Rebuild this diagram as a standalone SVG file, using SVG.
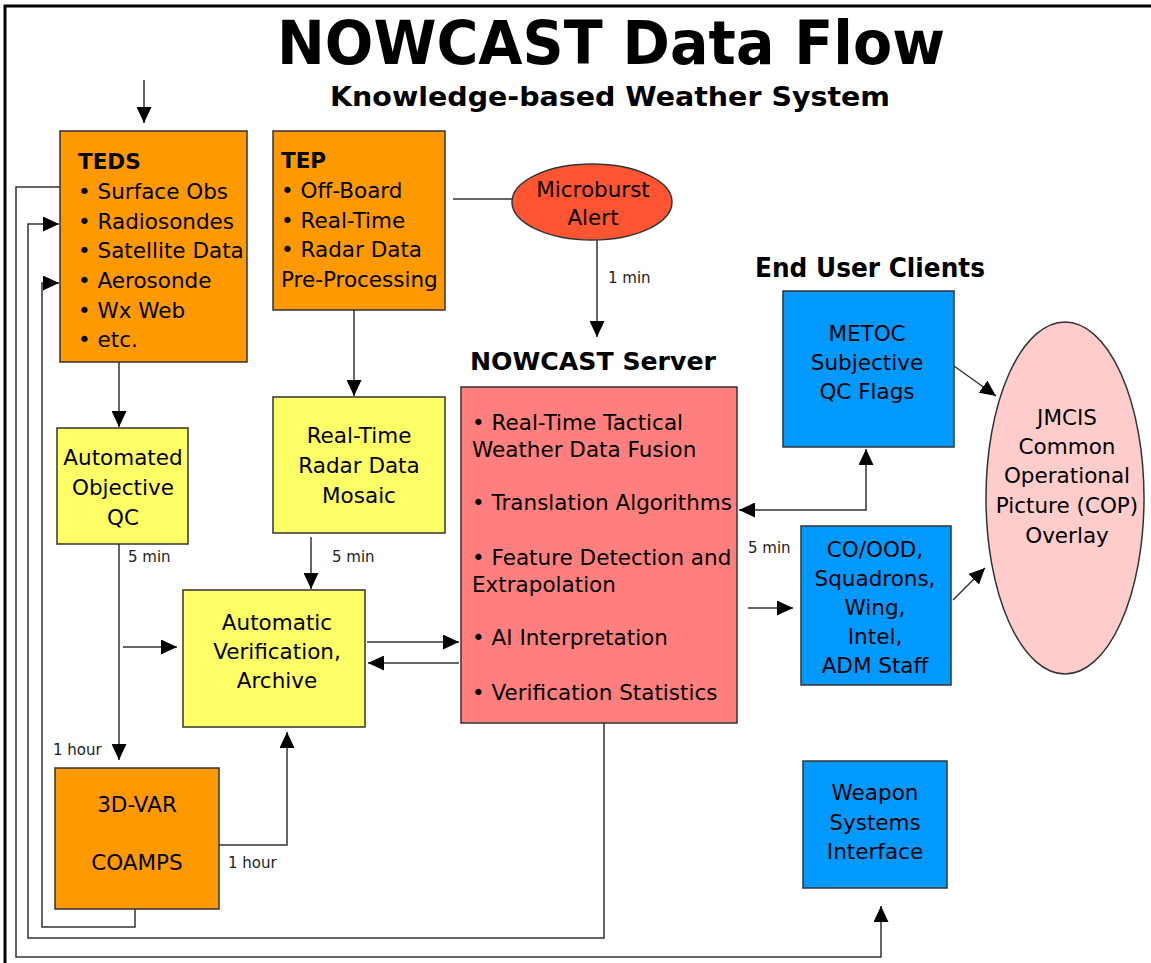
<svg xmlns="http://www.w3.org/2000/svg" width="1151" height="963" viewBox="0 0 1151 963">
<defs>
<marker id="ah" markerUnits="userSpaceOnUse" markerWidth="16" markerHeight="15" refX="16" refY="7.5" orient="auto-start-reverse">
<path d="M0,0 L16,7.5 L0,15 z" fill="#000"/>
</marker>
<style>
.box{stroke:#333;stroke-width:1.5}
.orange{fill:#FF9900}
.yellow{fill:#FFFF66}
.blue{fill:#0099FF}
.t{font-family:"DejaVu Sans",Verdana,sans-serif;font-size:21.5px;fill:#000}
.c{text-anchor:middle}
.b{font-weight:bold}
.h{font-family:"DejaVu Sans",Verdana,sans-serif;font-weight:bold;fill:#000}
.s{font-family:"DejaVu Sans",Verdana,sans-serif;font-size:15px;fill:#222}
.ln{fill:none;stroke:#333;stroke-width:1.5}
.ar{fill:none;stroke:#333;stroke-width:1.5;marker-end:url(#ah)}
</style>
</defs>
<rect width="1151" height="963" fill="#fff"/>
<path d="M5,963 V6 H1151" fill="none" stroke="#000" stroke-width="3"/>
<g id="title">
<text class="h" x="611" y="64" font-size="60" text-anchor="middle" textLength="668" lengthAdjust="spacingAndGlyphs">NOWCAST Data Flow</text>
<text class="h" x="610" y="106" font-size="27" text-anchor="middle" textLength="560" lengthAdjust="spacingAndGlyphs">Knowledge-based Weather System</text>
</g>
<g id="connectors">
<line class="ar" x1="144" y1="80" x2="144" y2="123"/>
<polyline class="ar" points="60,187 16,187 16,957 881,957 881,906"/>
<polyline class="ar" points="604,723 604,938 28,938 28,224 59,224"/>
<polyline class="ar" points="135,909 135,927 42,927 42,283 59,283"/>
<line class="ar" x1="119" y1="362" x2="119" y2="427"/>
<line class="ar" x1="119" y1="544" x2="119" y2="760"/>
<line class="ar" x1="123" y1="647" x2="177" y2="647"/>
<line class="ar" x1="354" y1="310" x2="354" y2="396"/>
<line class="ar" x1="311" y1="537" x2="311" y2="589"/>
<polyline class="ar" points="219,845 287,845 287,732"/>
<line class="ar" x1="367" y1="642" x2="459" y2="642"/>
<line class="ar" x1="459" y1="663" x2="368" y2="663"/>
<line class="ln" x1="453" y1="199" x2="513" y2="199"/>
<line class="ar" x1="597" y1="240" x2="597" y2="337"/>
<polyline class="ar" points="739,510 866,510 866,449" style="marker-start:url(#ah)"/>
<line class="ar" x1="748" y1="608" x2="793" y2="608"/>
<line class="ar" x1="954" y1="366" x2="996" y2="396"/>
<line class="ar" x1="953" y1="600" x2="985" y2="568"/>
<text class="s" x="53" y="755">1 hour</text>
<text class="s" x="128" y="562">5 min</text>
<text class="s" x="332" y="562">5 min</text>
<text class="s" x="228" y="868">1 hour</text>
<text class="s" x="608" y="283">1 min</text>
<text class="s" x="748" y="553">5 min</text>
</g>
<g id="teds">
<rect class="box orange" x="60" y="131" width="187" height="231"/>
<text class="t b" x="78" y="169">TEDS</text>
<text class="t" x="78" y="199">• Surface Obs</text>
<text class="t" x="78" y="229">• Radiosondes</text>
<text class="t" x="78" y="258">• Satellite Data</text>
<text class="t" x="78" y="288">• Aerosonde</text>
<text class="t" x="78" y="318">• Wx Web</text>
<text class="t" x="78" y="347">• etc.</text>
</g>
<g id="tep">
<rect class="box orange" x="273" y="131" width="172" height="179"/>
<text class="t b" x="281" y="168">TEP</text>
<text class="t" x="281" y="198">• Off-Board</text>
<text class="t" x="281" y="228">• Real-Time</text>
<text class="t" x="281" y="257">• Radar Data</text>
<text class="t" x="281" y="287">Pre-Processing</text>
</g>
<g id="microburst">
<ellipse cx="592" cy="202" rx="80" ry="38" fill="#FF5533" stroke="#333" stroke-width="1.5"/>
<text class="t c" x="593" y="197">Microburst</text>
<text class="t c" x="593" y="225">Alert</text>
</g>
<g id="qc">
<rect class="box yellow" x="57" y="428" width="131" height="116"/>
<text class="t c" x="123" y="465">Automated</text>
<text class="t c" x="123" y="495">Objective</text>
<text class="t c" x="123" y="525">QC</text>
</g>
<g id="mosaic">
<rect class="box yellow" x="273" y="397" width="172" height="136"/>
<text class="t c" x="359" y="443">Real-Time</text>
<text class="t c" x="359" y="473">Radar Data</text>
<text class="t c" x="359" y="503">Mosaic</text>
</g>
<g id="verification">
<rect class="box yellow" x="183" y="590" width="182" height="137"/>
<text class="t c" x="277" y="630">Automatic</text>
<text class="t c" x="277" y="659">Verification,</text>
<text class="t c" x="277" y="688">Archive</text>
</g>
<g id="coamps">
<rect class="box orange" x="55" y="768" width="164" height="141"/>
<text class="t c" x="137" y="812">3D-VAR</text>
<text class="t c" x="137" y="870">COAMPS</text>
</g>
<g id="server">
<text class="h" x="470" y="370" font-size="25" textLength="246" lengthAdjust="spacingAndGlyphs">NOWCAST Server</text>
<rect class="box" x="461" y="387" width="276" height="336" fill="#FF7F7F"/>
<text class="t" x="472" y="430">• Real-Time Tactical</text>
<text class="t" x="472" y="457">Weather Data Fusion</text>
<text class="t" x="472" y="510">• Translation Algorithms</text>
<text class="t" x="472" y="565">• Feature Detection and</text>
<text class="t" x="472" y="592">Extrapolation</text>
<text class="t" x="472" y="645">• AI Interpretation</text>
<text class="t" x="472" y="700">• Verification Statistics</text>
</g>
<g id="endusers">
<text class="h" x="755" y="277" font-size="27" textLength="230" lengthAdjust="spacingAndGlyphs">End User Clients</text>
</g>
<g id="metoc">
<rect class="box blue" x="783" y="291" width="171" height="156"/>
<text class="t c" x="867" y="341">METOC</text>
<text class="t c" x="867" y="370">Subjective</text>
<text class="t c" x="867" y="399">QC Flags</text>
</g>
<g id="coood">
<rect class="box blue" x="801" y="526" width="150" height="159"/>
<text class="t c" x="875" y="557">CO/OOD,</text>
<text class="t c" x="875" y="586">Squadrons,</text>
<text class="t c" x="875" y="615">Wing,</text>
<text class="t c" x="875" y="644">Intel,</text>
<text class="t c" x="875" y="673">ADM Staff</text>
</g>
<g id="jmcis">
<ellipse cx="1065" cy="498" rx="79" ry="176" fill="#FFCCCC" stroke="#333" stroke-width="1.5"/>
<text class="t c" x="1067" y="425">JMCIS</text>
<text class="t c" x="1067" y="454">Common</text>
<text class="t c" x="1067" y="483">Operational</text>
<text class="t c" x="1067" y="513">Picture (COP)</text>
<text class="t c" x="1067" y="543">Overlay</text>
</g>
<g id="weapon">
<rect class="box blue" x="803" y="761" width="144" height="127"/>
<text class="t c" x="875" y="800">Weapon</text>
<text class="t c" x="875" y="830">Systems</text>
<text class="t c" x="875" y="859">Interface</text>
</g>
</svg>
